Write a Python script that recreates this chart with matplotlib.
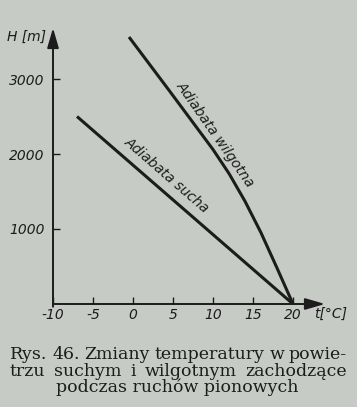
import matplotlib
matplotlib.use("Agg")
import matplotlib.pyplot as plt
from matplotlib import font_manager as fm

plt.rcParams["axes.unicode_minus"] = False

# dane
t_sucha = [-7, 20]
h_sucha = [2500, 0]
t_wilg = [-0.5, 4.5, 10, 12, 14, 16, 18, 20]
h_wilg = [3560, 2850, 2060, 1740, 1370, 950, 480, 0]
x_ticks = [-10, -5, 0, 5, 10, 15, 20]
y_ticks = [1000, 2000, 3000]

W, H = 357, 407
bg = "#c7cbc6"
ink = "#1c1c1c"

# waska kursywa jak w oryginale (jesli jest DejaVu Sans Condensed)
names = {f.name for f in fm.fontManager.ttflist}
if "DejaVu Sans Condensed" in names:
    narrow = ["DejaVu Sans Condensed", "DejaVu Sans"]
    fs = 11
elif "Liberation Sans Narrow" in names:
    narrow = ["Liberation Sans Narrow", "DejaVu Sans"]
    fs = 11
else:
    narrow = ["DejaVu Sans"]
    fs = 10
print(narrow)

fig = plt.figure(figsize=(W / 100, H / 100), dpi=100, facecolor=bg)
ax = fig.add_axes([53 / W, (H - 304) / H, (325 - 53) / W, (304 - 28) / H])
ax.set_facecolor(bg)
ax.set_xlim(-10, 24)
ax.set_ylim(0, 3680)

ax.plot(t_sucha, h_sucha, color=ink, lw=2.2, solid_capstyle="butt")
ax.plot(t_wilg, h_wilg, color=ink, lw=2.2, solid_capstyle="butt", solid_joinstyle="round")

for s in ax.spines.values():
    s.set_visible(False)
arrow = dict(arrowstyle="-|>,head_length=1.2,head_width=0.35", color=ink, lw=1.4, shrinkA=0, shrinkB=0)
ax.annotate("", xy=(0, 1), xytext=(0, -0.01), xycoords="axes fraction", arrowprops=arrow)
ax.annotate("", xy=(1, 0), xytext=(0, 0), xycoords="axes fraction", arrowprops=arrow)

ax.set_xticks(x_ticks)
ax.set_yticks(y_ticks)
ax.tick_params(direction="in", length=5, width=1, color=ink, pad=3)
for lab in ax.get_xticklabels() + ax.get_yticklabels():
    lab.set_family(narrow)
    lab.set_style("italic")
    lab.set_fontsize(fs)
    lab.set_color(ink)
ax.tick_params(axis="y", pad=6)

lab_kw = dict(family=narrow, style="italic", fontsize=fs, color=ink)
fig.text(46 / W, 1 - 37 / H, "H [m]", ha="right", va="center", **lab_kw)
fig.text(331 / W, 1 - 314 / H, "t[°C]", ha="center", va="center", **lab_kw)

ax.text(4.2, 1720, "Adiabata sucha", rotation=-41, rotation_mode="anchor",
        ha="center", va="center", **lab_kw)
ax.text(10.3, 2260, "Adiabata wilgotna", rotation=-55, rotation_mode="anchor",
        ha="center", va="center", **lab_kw)

# podpis rysunku (wyjustowany)
cap = dict(family="DejaVu Serif", fontsize=12.5, color=ink, va="baseline")
r = fig.canvas.get_renderer()


def justify(words, ybase, x0=10, x1=347):
    texts = [fig.text(0, 1 - ybase / H, w, **cap) for w in words]
    widths = [t.get_window_extent(r).width for t in texts]
    gap = (x1 - x0 - sum(widths)) / (len(words) - 1)
    x = x0
    for t, w in zip(texts, widths):
        t.set_x(x / W)
        x += w + gap


justify("Rys. 46. Zmiany temperatury w powie-".split(), 359)
justify("trzu suchym i wilgotnym zachodzące".split(), 375.5)
fig.text(177 / W, 1 - 391.5 / H, "podczas ruchów pionowych", ha="center", **cap)

fig.savefig("out.png", dpi=100, facecolor=bg)
